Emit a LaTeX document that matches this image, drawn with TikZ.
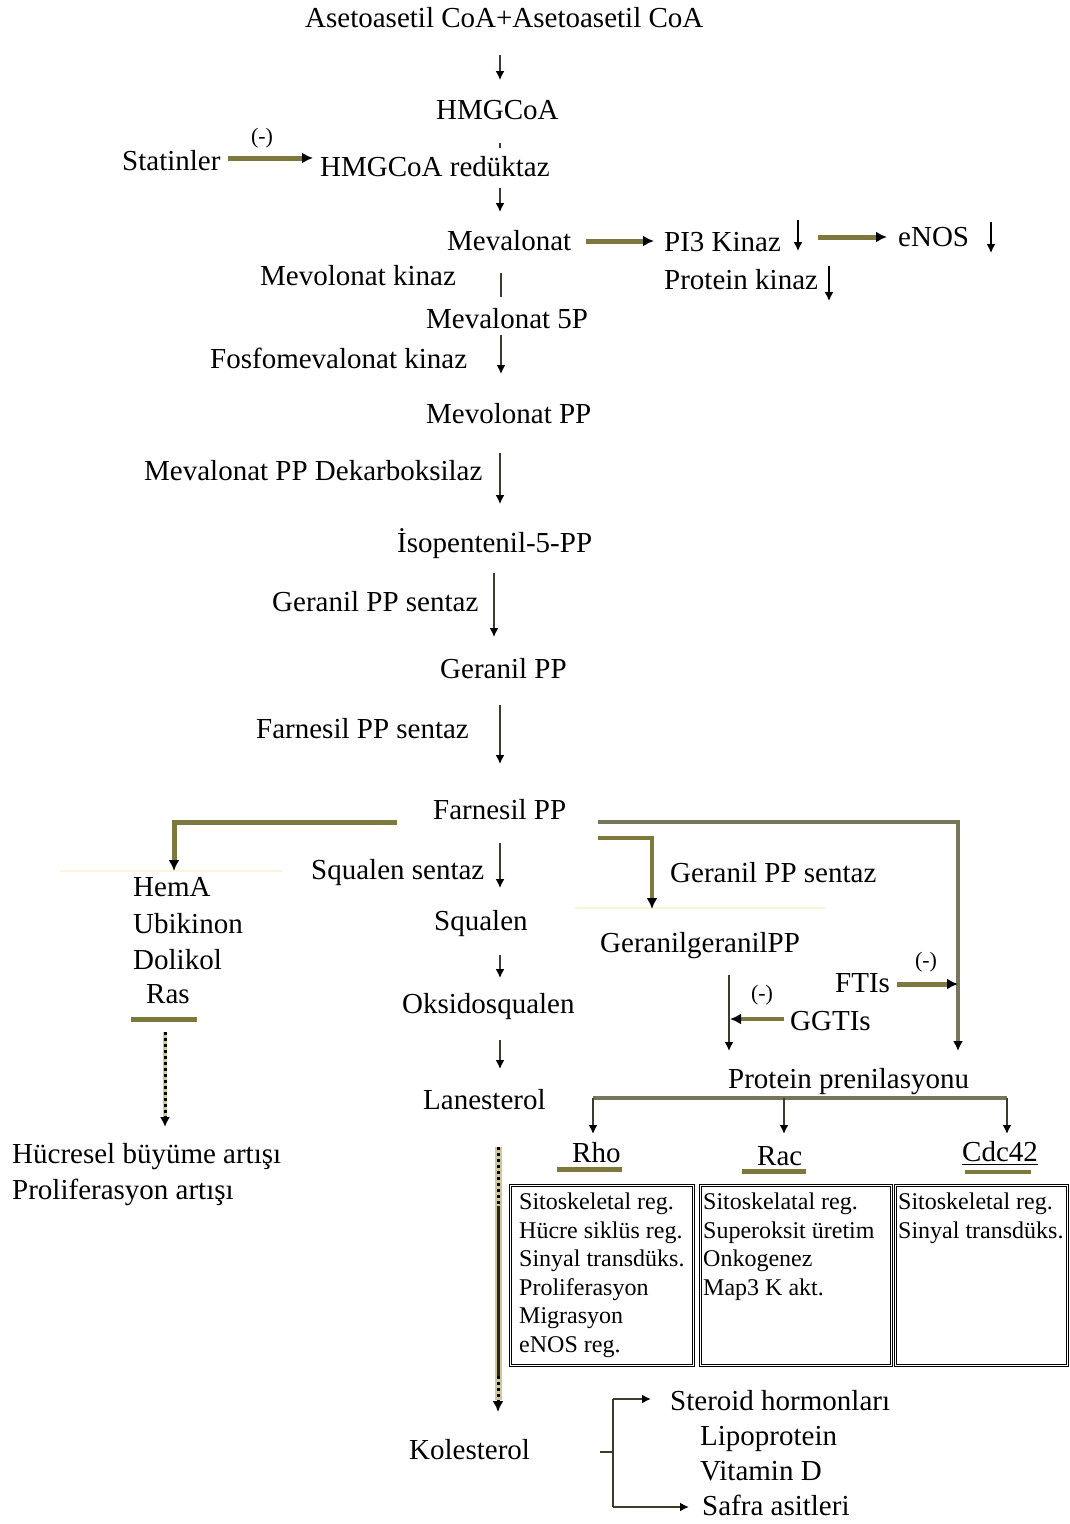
\documentclass[tikz,border=0pt]{standalone}
\usepackage{fontspec}
\setmainfont{Liberation Serif}
\usetikzlibrary{arrows.meta}
\definecolor{oliv}{RGB}{124,120,62}
\definecolor{khaki}{RGB}{205,200,150}
\definecolor{faint}{RGB}{250,245,215}
\definecolor{lnk}{RGB}{60,60,45}
\definecolor{grayol}{RGB}{120,118,90}
\tikzset{
  lbl/.style={anchor=base west, inner sep=0pt, font=\fontsize{29}{31}\selectfont},
  minus/.style={inner sep=0pt, font=\fontsize{22}{24}\selectfont},
  boxtxt/.style={anchor=north west, inner sep=0pt, font=\fontsize{24}{28.5}\selectfont, align=left},
  thinarr/.style={draw=lnk, line width=1.6pt, -{Latex[length=9pt,width=9pt,color=black]}},
  thickarr/.style={draw=oliv, line width=5pt, -{Latex[length=11pt,width=11pt,color=black]}},
  midarr/.style={draw=grayol, line width=3.5pt, -{Latex[length=10pt,width=10pt,color=black]}},
  bar/.style={draw=oliv, line width=5pt},
  cell/.style={draw=black, line width=0.9pt, double=white, double distance=1pt, inner sep=0pt, anchor=north west},
  faintline/.style={draw=faint, line width=1.5pt},
}
\begin{document}
\begin{tikzpicture}[x=1pt,y=-1pt]
\useasboundingbox (0,0) rectangle (1069,1524);
% ---------- main chain texts ----------
\node[lbl] (aceto) at (305,27) {Asetoasetil CoA+Asetoasetil CoA};
\node[lbl] (hmg) at (436,119) {HMGCoA};
\node[lbl] (stat) at (122,170) {Statinler};
\node[minus] (m1) at (262,138) {(-)};
\node[lbl] (hmgr) at (320,176) {HMGCoA redüktaz};
\node[lbl] (meva) at (447,250) {Mevalonat};
\node[lbl] (pi3) at (664,251) {PI3 Kinaz};
\node[lbl] (enos) at (898,246) {eNOS};
\node[lbl] (pk) at (664,289) {Protein kinaz};
\node[lbl] (mk) at (260,285) {Mevolonat kinaz};
\node[lbl] (m5p) at (426,328) {Mevalonat 5P};
\node[lbl] (fmk) at (210,368) {Fosfomevalonat kinaz};
\node[lbl] (mpp) at (426,423) {Mevolonat PP};
\node[lbl] (mppd) at (144,480) {Mevalonat PP Dekarboksilaz};
\node[lbl] (ipp) at (397,552) {İsopentenil-5-PP};
\node[lbl] (gpps) at (272,611) {Geranil PP sentaz};
\node[lbl] (gpp) at (440,678) {Geranil PP};
\node[lbl] (fpps) at (256,738) {Farnesil PP sentaz};
\node[lbl] (fpp) at (433,819) {Farnesil PP};
% left branch
\node[lbl] (hema) at (133,896) {HemA};
\node[lbl] (ubi) at (133,933) {Ubikinon};
\node[lbl] (doli) at (133,969) {Dolikol};
\node[lbl] (ras) at (146,1003) {Ras};
\node[lbl] (hb) at (12,1163) {Hücresel büyüme artışı};
\node[lbl] (pa) at (12,1199) {Proliferasyon artışı};
% centre branch
\node[lbl] (sqs) at (311,879) {Squalen sentaz};
\node[lbl] (sq) at (434,930) {Squalen};
\node[lbl] (oks) at (402,1013) {Oksidosqualen};
\node[lbl] (lan) at (423,1109) {Lanesterol};
\node[lbl] (kol) at (409,1459) {Kolesterol};
\node[lbl] (ster) at (670,1410) {Steroid hormonları};
\node[lbl] (lipo) at (700,1445) {Lipoprotein};
\node[lbl] (vitd) at (700,1480) {Vitamin D};
\node[lbl] (safra) at (702,1515) {Safra asitleri};
% right branch
\node[lbl] (gpps2) at (670,882) {Geranil PP sentaz};
\node[lbl] (ggpp) at (600,952) {GeranilgeranilPP};
\node[lbl] (ftis) at (835,992) {FTIs};
\node[lbl] (ggtis) at (790,1030) {GGTIs};
\node[minus] (m2) at (762,995) {(-)};
\node[minus] (m3) at (926,962) {(-)};
\node[lbl] (pp) at (728,1088) {Protein prenilasyonu};
\node[lbl] (rho) at (572,1162) {Rho};
\node[lbl] (rac) at (757,1165) {Rac};
\node[lbl] (cdc) at (962,1161) {Cdc42};
% boxes
\node[cell, minimum width=183pt, minimum height=180pt] (b1) at (510,1185) {};
\node[cell, minimum width=191pt, minimum height=180pt] (b2) at (700,1185) {};
\node[cell, minimum width=172pt, minimum height=180pt] (b3) at (895,1185) {};
\node[boxtxt] (t1) at (519,1193) {Sitoskeletal reg.\\Hücre siklüs reg.\\Sinyal transdüks.\\Proliferasyon\\Migrasyon\\eNOS reg.};
\node[boxtxt] (t2) at (703,1193) {Sitoskelatal reg.\\Superoksit üretim\\Onkogenez\\Map3 K akt.};
\node[boxtxt] (t3) at (898,1193) {Sitoskeletal reg.\\Sinyal transdüks.};
% ---------- coordinates ----------
\coordinate (a1) at (500,55);   \coordinate (a1e) at (500,80);
\coordinate (d1) at (500,143);  \coordinate (d1e) at (500,148);
\coordinate (s1) at (228,158);  \coordinate (s1e) at (313,158);
\coordinate (a2) at (500,188);  \coordinate (a2e) at (500,212);
\coordinate (h1) at (586,241);  \coordinate (h1e) at (654,241);
\coordinate (v1) at (798,220);  \coordinate (v1e) at (798,251);
\coordinate (h2) at (818,237);  \coordinate (h2e) at (887,237);
\coordinate (v2) at (991,222);  \coordinate (v2e) at (991,253);
\coordinate (v3) at (829,266);  \coordinate (v3e) at (829,301);
\coordinate (l1) at (501,273);  \coordinate (l1e) at (501,297);
\coordinate (a3) at (501,335);  \coordinate (a3e) at (501,374);
\coordinate (a4) at (500,453);  \coordinate (a4e) at (500,504);
\coordinate (a5) at (494,573);  \coordinate (a5e) at (494,637);
\coordinate (a6) at (500,705);  \coordinate (a6e) at (500,764);
\coordinate (lb) at (397,822);  \coordinate (lbc) at (174,822); \coordinate (lbe) at (174,871);
\coordinate (a7) at (500,843);  \coordinate (a7e) at (500,888);
\coordinate (a8) at (500,955);  \coordinate (a8e) at (500,978);
\coordinate (a9) at (500,1040); \coordinate (a9e) at (500,1069);
\coordinate (rb1) at (598,822); \coordinate (rb1c) at (958,822); \coordinate (rb1e) at (958,1051);
\coordinate (rb2) at (598,838); \coordinate (rb2c) at (652,838); \coordinate (rb2e) at (652,909);
\coordinate (g1) at (729,975);  \coordinate (g1e) at (729,1051);
\coordinate (gg) at (784,1019); \coordinate (gge) at (730,1019);
\coordinate (ft) at (897,984);  \coordinate (fte) at (958,984);
\coordinate (pb1) at (593,1098); \coordinate (pb2) at (784,1098); \coordinate (pb3) at (1007,1098);
\coordinate (pb1e) at (593,1134); \coordinate (pb2e) at (784,1134); \coordinate (pb3e) at (1007,1134);
\coordinate (ras1) at (131,1019); \coordinate (ras2) at (197,1019);
\coordinate (rd) at (165,1032); \coordinate (rdk) at (165,1117); \coordinate (rde) at (165,1127);
\coordinate (rho1) at (557,1169); \coordinate (rho2) at (622,1169);
\coordinate (rac1) at (742,1171); \coordinate (rac2) at (806,1171);
\coordinate (cdu1) at (962,1164); \coordinate (cdu2) at (1038,1164);
\coordinate (cdb1) at (965,1172); \coordinate (cdb2) at (1031,1172);
\coordinate (k0) at (498,1147); \coordinate (k1) at (498,1206); \coordinate (k2) at (498,1376);
\coordinate (kk) at (498,1400); \coordinate (k3) at (498,1412);
\coordinate (kb0) at (600,1452); \coordinate (kb1) at (613,1452);
\coordinate (kbt) at (613,1399); \coordinate (kbb) at (613,1507);
\coordinate (kbte) at (651,1399); \coordinate (kbbe) at (689,1507);
\coordinate (f1) at (60,871);  \coordinate (f1e) at (283,871);
\coordinate (f2) at (575,908); \coordinate (f2e) at (825,908);
% ---------- connectors ----------
\draw[faintline] (f1) -- (f1e);
\draw[faintline] (f2) -- (f2e);
\draw[thinarr] (a1) -- (a1e);
\draw[draw=lnk, line width=1.6pt] (d1) -- (d1e);
\draw[thickarr] (s1) -- (s1e);
\draw[thinarr] (a2) -- (a2e);
\draw[thickarr] (h1) -- (h1e);
\draw[thinarr, draw=black, line width=1.4pt] (v1) -- (v1e);
\draw[thickarr] (h2) -- (h2e);
\draw[thinarr, draw=black, line width=1.4pt] (v2) -- (v2e);
\draw[thinarr, draw=black, line width=1.4pt] (v3) -- (v3e);
\draw[draw=lnk, line width=1.6pt] (l1) -- (l1e);
\draw[thinarr] (a3) -- (a3e);
\draw[thinarr] (a4) -- (a4e);
\draw[thinarr] (a5) -- (a5e);
\draw[thinarr] (a6) -- (a6e);
\draw[thickarr] (lb) -- (lbc) -- (lbe);
\draw[thinarr] (a7) -- (a7e);
\draw[thinarr] (a8) -- (a8e);
\draw[thinarr] (a9) -- (a9e);
\draw[midarr] (rb1) -- (rb1c) -- (rb1e);
\draw[thickarr, line width=4.5pt] (rb2) -- (rb2c) -- (rb2e);
\draw[thinarr, line width=2pt] (g1) -- (g1e);
\draw[thickarr, line width=4pt] (gg) -- (gge);
\draw[thickarr] (ft) -- (fte);
\draw[draw=grayol, line width=3.5pt] (pb1) -- (pb3);
\draw[thinarr, line width=2pt] (pb1) -- (pb1e);
\draw[thinarr, line width=2pt] (pb2) -- (pb2e);
\draw[thinarr, line width=2pt] (pb3) -- (pb3e);
\draw[bar] (ras1) -- (ras2);
\draw[draw=khaki, line width=4pt] (rd) -- (rdk);
\draw[draw=black, line width=3pt, dash pattern=on 3pt off 3pt, -{Latex[length=10pt,width=10pt,color=black]}] (rd) -- (rde);
\draw[bar] (rho1) -- (rho2);
\draw[bar] (rac1) -- (rac2);
\draw[draw=black, line width=1pt] (cdu1) -- (cdu2);
\draw[bar, line width=4pt] (cdb1) -- (cdb2);
\draw[draw=khaki, line width=7pt] (k0) -- (kk);
\draw[draw=black, line width=3pt, dash pattern=on 3pt off 3pt] (k0) -- (k1);
\draw[draw=black!85, line width=3pt] (k1) -- (k2);
\draw[draw=black, line width=3pt, dash pattern=on 3pt off 3pt, -{Latex[length=11pt,width=11pt,color=black]}] (k2) -- (k3);
\draw[draw=lnk, line width=2.5pt] (kb0) -- (kb1);
\draw[draw=lnk, line width=2.5pt, -{Latex[length=9pt,width=9pt,color=black]}] (kbt) -- (kbte);
\draw[draw=lnk, line width=2.5pt] (kbt) -- (kbb);
\draw[draw=lnk, line width=2.5pt, -{Latex[length=9pt,width=9pt,color=black]}] (kbb) -- (kbbe);
\end{tikzpicture}
\end{document}
